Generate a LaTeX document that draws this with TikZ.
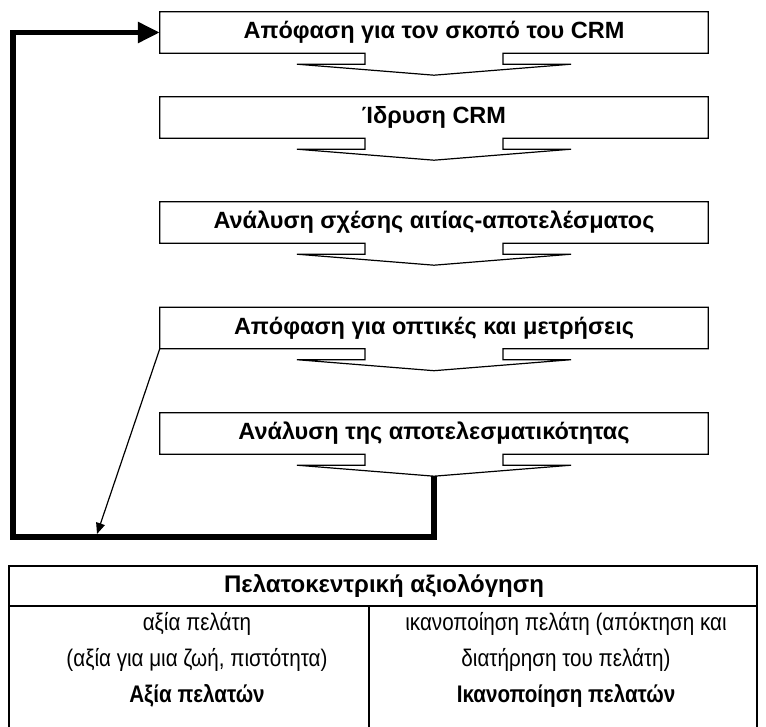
\documentclass[tikz,border=0pt]{standalone}
\usepackage{fontspec}
\setmainfont{Liberation Sans}
\newfontfamily\narrowfont[FakeStretch=0.86]{Liberation Sans}
\usetikzlibrary{arrows.meta, positioning, calc}

\begin{document}
\begin{tikzpicture}[x=1pt, y=-1pt,
  stage/.style={minimum width=548pt, minimum height=41pt, inner sep=0pt,
    font=\fontsize{23.5}{26}\selectfont\bfseries},
  outline/.style={line width=1.2pt, line join=miter},
  back/.style={line width=5.5pt, -{Triangle[length=22pt, width=20pt]}},
  rule/.style={line width=1.5pt},
  cell/.style={inner sep=0pt, font=\narrowfont\fontsize{24}{26}\selectfont}]

% Canvas 766 x 727, units in pt, y runs downwards
\useasboundingbox (0,0) rectangle (766,727);

% ================================================================
% STAGES: box with a flat down-arrow under it
% box: 548 wide, 41 high; shaft 138 wide, head 274 wide, 22 deep
% ================================================================
\foreach \name/\yc/\txt in {
  s1/32.5/{Απόφαση για τον σκοπό του CRM},
  s2/117.5/{Ίδρυση CRM},
  s3/222.5/{Ανάλυση σχέσης αιτίας-αποτελέσματος},
  s4/328/{Απόφαση για οπτικές και μετρήσεις},
  s5/433.5/{Ανάλυση της αποτελεσματικότητας}} {
  \node[stage] (\name) at (434,\yc) {\txt};
  \coordinate (\name-tip) at ($(\name.south)+(0,22)$);
  \draw[outline] ($(\name.south)+(-69,0)$) -- (\name.south west)
    -- (\name.north west) -- (\name.north east) -- (\name.south east)
    -- ($(\name.south)+(69,0)$) -- ++(0,11) -- ++(68,0) -- (\name-tip)
    -- ($(\name.south)+(-137,11)$) -- ++(68,0) -- cycle;
}

% Feedback loop from the last stage back to the first
\coordinate (corner) at (13,537);
\draw[back] (s5-tip) |- (corner) |- (s1.west);

% Thin arrow from stage 4 down to the loop
\coordinate (hit) at (97,534);
\draw[-{Triangle[length=11pt, width=9pt]}, line width=1.2pt] (s4.south west) -- (hit);

% ================================================================
% TABLE (runs off the bottom edge)
% ================================================================
\draw[rule] (9,727) -- (9,566) -- (757,566) -- (757,727);
\draw[rule] (9,606) -- (757,606);
\draw[rule] (369,606) -- (369,727);

\node[font=\fontsize{24}{26}\selectfont\bfseries] (head) at (384,586)
  {Πελατοκεντρική αξιολόγηση};

% left column
\node[cell] (l1) at (197,624) {αξία πελάτη};
\node[cell] (l2) at (197,660) {(αξία για μια ζωή, πιστότητα)};
\node[cell, font=\narrowfont\fontsize{24}{26}\selectfont\bfseries] (l3) at (197,696)
  {Αξία πελατών};

% right column
\node[cell] (r1) at (566,624) {ικανοποίηση πελάτη (απόκτηση και};
\node[cell] (r2) at (566,660) {διατήρηση του πελάτη)};
\node[cell, font=\narrowfont\fontsize{24}{26}\selectfont\bfseries] (r3) at (566,696)
  {Ικανοποίηση πελατών};

\end{tikzpicture}
\end{document}
